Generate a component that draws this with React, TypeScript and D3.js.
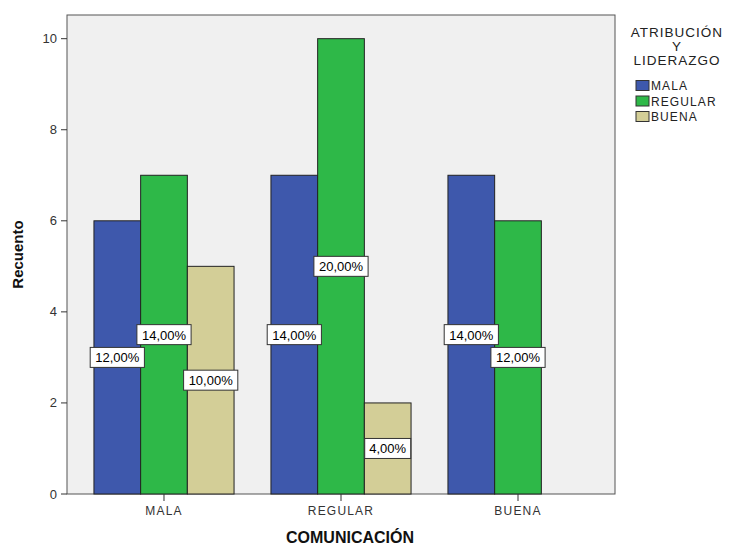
import React from "react";
import * as d3 from "d3";

const categories = ["MALA", "REGULAR", "BUENA"];
const seriesNames = ["MALA", "REGULAR", "BUENA"];
const seriesColors = ["#3E58AC", "#2EB848", "#D3CE97"];
const valuesMala = [6, 7, 7];
const valuesRegular = [7, 10, 6];
const valuesBuena = [5, 2, 0];
const labelsMala = ["12,00%", "14,00%", "14,00%"];
const labelsRegular = ["14,00%", "20,00%", "12,00%"];
const labelsBuena = ["10,00%", "4,00%", ""];
const yTicks = [0, 2, 4, 6, 8, 10];
const legendTitle = ["ATRIBUCIÓN", "Y", "LIDERAZGO"];

const W = 729;
const H = 547;
const plot = { left: 67, right: 615, top: 15, bottom: 494 };

export default function App() {
  const x = d3.scalePoint<string>().domain(categories).range([plot.left, plot.right]).padding(0.548);
  const y = d3.scaleLinear().domain([0, 10.52]).range([plot.bottom, plot.top]);
  const barW = 46.7;
  const series = [valuesMala, valuesRegular, valuesBuena];
  const labels = [labelsMala, labelsRegular, labelsBuena];
  const font = "Arial, 'Liberation Sans', sans-serif";

  const bars: React.ReactNode[] = [];
  const labelNodes: React.ReactNode[] = [];
  categories.forEach((c, ci) => {
    const cx = x(c)!;
    series.forEach((vals, si) => {
      const v = vals[ci];
      if (!v) return;
      const bx = cx - 1.5 * barW + si * barW;
      bars.push(
        <rect key={`b${ci}-${si}`} x={bx} y={y(v)} width={barW} height={y(0) - y(v)}
          fill={seriesColors[si]} stroke="#222" strokeWidth={1} />
      );
      const lab = labels[si][ci];
      const lx = bx + barW / 2;
      const ly = y(v / 2);
      const tw = lab.length * 8.2 + 5;
      labelNodes.push(
        <g key={`l${ci}-${si}`}>
          <rect x={lx - tw / 2} y={ly - 10} width={tw} height={20} fill="#fff" stroke="#333" strokeWidth={1} />
          <text x={lx} y={ly + 5} textAnchor="middle" fontSize={13} fontFamily={font} fill="#000">{lab}</text>
        </g>
      );
    });
  });

  return (
    <svg width={W} height={H} style={{ position: "absolute", left: 0, top: 0 }}>
      <rect x={0} y={0} width={W} height={H} fill="#fff" />
      <rect x={plot.left} y={plot.top} width={plot.right - plot.left} height={plot.bottom - plot.top}
        fill="#F0F0F0" stroke="#555" strokeWidth={1} />
      {bars}
      {yTicks.map((t) => (
        <g key={t}>
          <line x1={plot.left - 6} x2={plot.left} y1={y(t)} y2={y(t)} stroke="#333" />
          <text x={plot.left - 10} y={y(t) + 4.5} textAnchor="end" fontSize={13} fontFamily={font} fill="#333">{t}</text>
        </g>
      ))}
      {categories.map((c) => (
        <g key={c}>
          <line x1={x(c)!} x2={x(c)!} y1={plot.bottom} y2={plot.bottom + 7} stroke="#333" />
          <text x={x(c)!} y={plot.bottom + 21} textAnchor="middle" fontSize={12} letterSpacing={1.2}
            fontFamily={font} fill="#333">{c}</text>
        </g>
      ))}
      {labelNodes}
      <text transform={`translate(23,${(plot.top + plot.bottom) / 2}) rotate(-90)`} textAnchor="middle"
        fontSize={15} fontWeight="bold" fontFamily={font} fill="#111">Recuento</text>
      <text x={350} y={543} textAnchor="middle" fontSize={16} fontWeight="bold"
        fontFamily={font} fill="#111">COMUNICACIÓN</text>
      <g fontFamily={font} fill="#222">
        {legendTitle.map((t, i) => (
          <text key={t} x={677} y={37 + i * 14} textAnchor="middle" fontSize={13.5} letterSpacing={1}>{t}</text>
        ))}
        {seriesNames.map((s, i) => (
          <g key={s}>
            <rect x={636} y={80.5 + i * 15.5} width={13} height={10} fill={seriesColors[i]} stroke="#333" strokeWidth={1} />
            <text x={651} y={90 + i * 15.5} fontSize={12} letterSpacing={1.1}>{s}</text>
          </g>
        ))}
      </g>
    </svg>
  );
}
